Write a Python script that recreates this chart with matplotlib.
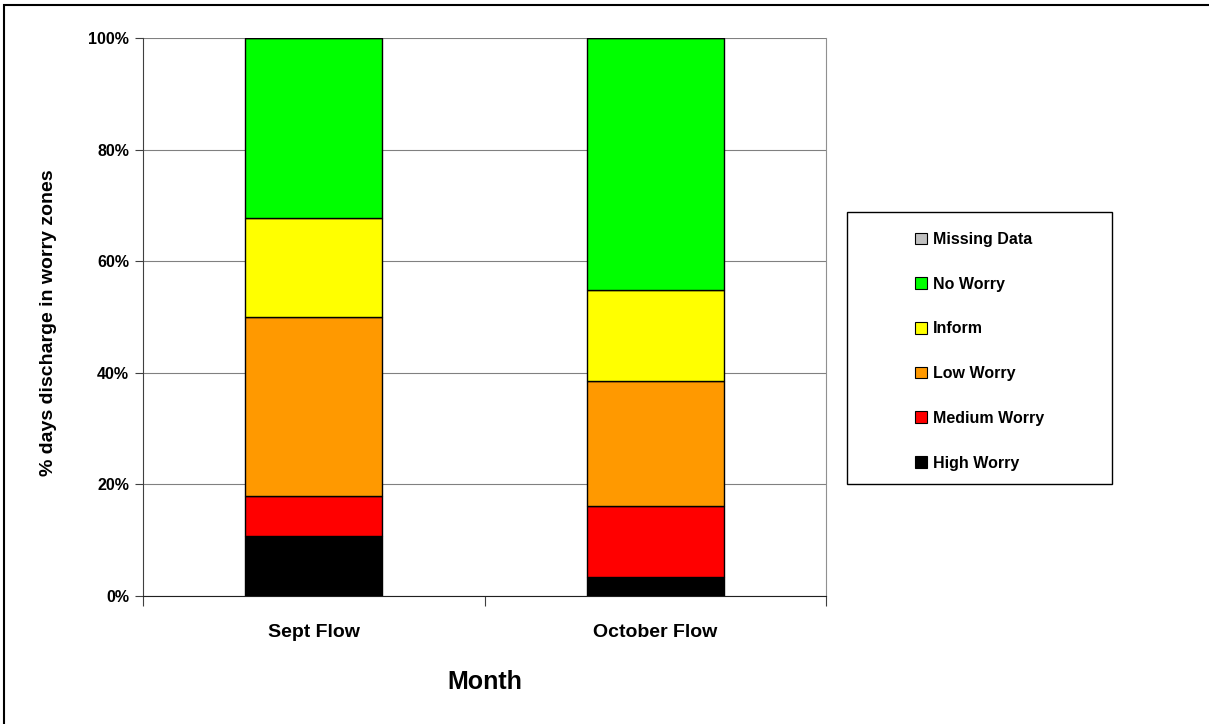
import numpy as np
import matplotlib.pyplot as plt
from matplotlib.patches import Patch

plt.rcParams['font.family'] = ['Liberation Sans', 'DejaVu Sans']
plt.rcParams['font.weight'] = 'bold'

#----------------------------------------
months = ["Sept Flow", "October Flow"]
zones = ["High Worry", "Medium Worry", "Low Worry", "Inform", "No Worry", "Missing Data"]
colors = ["#000000", "#FF0000", "#FF9900", "#FFFF00", "#00FF00", "#C0C0C0"]
# fraction of days in each zone
high_worry = [0.108, 0.034]
medium_worry = [0.071, 0.127]
low_worry = [0.321, 0.224]
inform = [0.178, 0.163]
no_worry = [0.322, 0.452]
missing = [0.0, 0.0]
series = [high_worry, medium_worry, low_worry, inform, no_worry, missing]
#----------------------------------------

W, H = 1209, 724
fig = plt.figure(figsize=(W / 100, H / 100), dpi=100)
ax = fig.add_axes([143 / W, 1 - 596 / H, (826 - 143) / W, (596 - 38) / H])

x = np.arange(len(months)) + 0.5
bottom = np.zeros(len(months))
for vals, c in zip(series, colors):
    vals = np.array(vals)
    ax.bar(x, vals, width=0.4, bottom=bottom, color=c, edgecolor="black",
           linewidth=1, zorder=3)
    bottom += vals

ax.set_xlim(0, 2)
ax.set_ylim(0, 1)
ticks = np.arange(0, 1.01, 0.2)
ax.set_yticks(ticks)
ax.set_yticklabels(["%d%%" % round(v * 100) for v in ticks], fontsize=11.5, fontweight="bold")
ax.set_xticks([0, 1, 2])
ax.set_xticklabels([])
ax.set_xticks(x, minor=True)
ax.set_xticklabels(months, minor=True, fontsize=14, fontweight="bold")
ax.tick_params(axis="x", which="minor", length=0, pad=20)
ax.tick_params(axis="x", which="major", length=7, direction="out", color="#404040")
ax.tick_params(axis="y", length=6, direction="out", color="#404040", pad=4)
ax.yaxis.grid(True, color="#808080", linewidth=0.8, zorder=0)

ax.spines["left"].set_color("#404040")
ax.spines["bottom"].set_color("#202020")
ax.spines["top"].set_visible(False)
ax.spines["right"].set_color("#909090")

fig.text(485 / W, 1 - 682 / H, "Month", fontsize=18, fontweight="bold",
         ha="center", va="center")
fig.text(49 / W, 1 - 323 / H, "% days discharge in worry zones", fontsize=14,
         fontweight="bold", rotation=90, ha="center", va="center")

# legend box
fig.patches.append(plt.Rectangle((847 / W, 1 - 484 / H), (1112 - 847) / W, (484 - 212) / H,
                                 transform=fig.transFigure, fill=False,
                                 edgecolor="black", linewidth=1))
handles = [Patch(facecolor=c, edgecolor="black", linewidth=0.8, label=z)
           for z, c in zip(zones, colors)][::-1]
leg = fig.legend(handles=handles, loc="upper left",
                 bbox_to_anchor=(915 / W, 1 - 232 / H),
                 fontsize=11.5, frameon=False,
                 handlelength=0.75, handleheight=0.75, handletextpad=0.35,
                 labelspacing=1.86, borderpad=0, borderaxespad=0)
for t in leg.get_texts():
    t.set_fontweight("bold")

# outer border of the chart
fig.patches.append(plt.Rectangle((0.003, -0.01), 1.1, 1.003, transform=fig.transFigure,
                                 fill=False, edgecolor="black", linewidth=1.5))

fig.savefig("out.png", dpi=100)
